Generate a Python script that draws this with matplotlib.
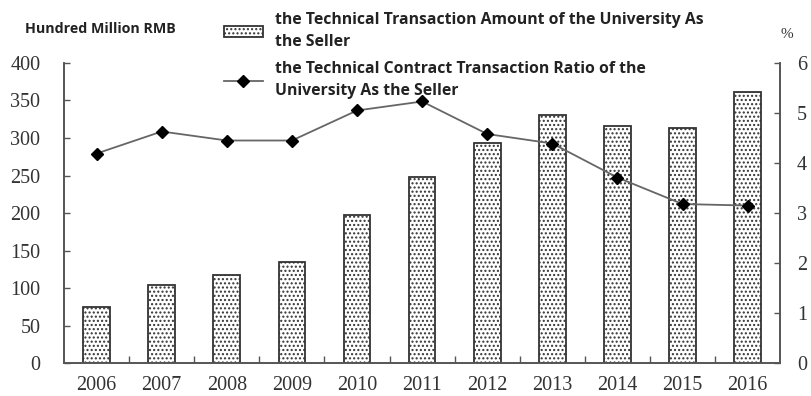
import numpy as np
import matplotlib
matplotlib.use("Agg")
import matplotlib.pyplot as plt

years = ["2006", "2007", "2008", "2009", "2010", "2011",
         "2012", "2013", "2014", "2015", "2016"]
amount = [75, 104, 117, 135, 197, 248, 293, 330, 316, 314, 361]
ratio = [4.19, 4.63, 4.45, 4.45, 5.05, 5.23, 4.58, 4.39, 3.71, 3.18, 3.15]

amount_label = "the Technical Transaction Amount of the University As\nthe Seller"
ratio_label = "the Technical Contract Transaction Ratio of the\nUniversity As the Seller"

plt.rcParams['hatch.color'] = '#444444'
plt.rcParams['hatch.linewidth'] = 1.0

fig = plt.figure(figsize=(8.11, 3.96), dpi=100)
ax = fig.add_axes([0.079, 0.083, 0.883, 0.758])
ax2 = ax.twinx()

x = np.arange(len(years))
bars = ax.bar(x, amount, width=0.41, facecolor='white', edgecolor='#333333',
              linewidth=1.3, hatch='....', label=amount_label, zorder=2)
line, = ax2.plot(x, ratio, color='#666666', linewidth=1.3, marker='D',
                 markersize=6, markerfacecolor='black', markeredgecolor='black',
                 label=ratio_label, zorder=3)

ax.set_xlim(-0.5, len(years) - 0.5)
ax.set_ylim(0, 400)
ax2.set_ylim(0, 6)
ax.set_yticks(range(0, 401, 50))
ax2.set_yticks(range(0, 7))
ax.set_xticks(x)
ax.set_xticklabels(years)
ax.set_xticks(x[:-1] + 0.5, minor=True)

for lab in ax.get_xticklabels() + ax.get_yticklabels() + ax2.get_yticklabels():
    lab.set_fontfamily('Liberation Serif')
    lab.set_fontsize(14.5)
    lab.set_color('#333333')

ax.tick_params(axis='x', which='major', length=0, pad=9.5)
ax.tick_params(axis='x', which='minor', direction='in', length=5, width=1, color='#555555')
ax.tick_params(axis='y', direction='in', length=4, width=1, color='#555555', pad=17)
ax2.tick_params(axis='y', direction='in', length=4, width=1, color='#555555', pad=12)

for a in (ax, ax2):
    a.spines['top'].set_visible(False)
    for s in ('left', 'right', 'bottom'):
        a.spines[s].set_color('#555555')
        a.spines[s].set_linewidth(1.2)

fig.text(0.031, 0.928, "Hundred Million RMB", family='Open Sans', weight='bold',
         fontsize=10.3, color='#222222', va='center')
fig.text(0.963, 0.912, "%", family='Liberation Serif', fontsize=11,
         color='#333333', va='center')

leg = ax.legend([bars, line], [amount_label, ratio_label], loc='upper left',
                bbox_to_anchor=(0.214, 1.19), frameon=False,
                prop=dict(family='Open Sans', weight='bold', size=11.3),
                handlelength=2.5, handleheight=0.7, handletextpad=0.8,
                labelspacing=0.7, borderaxespad=0)
for t in leg.get_texts():
    t.set_color('#222222')
    t.set_linespacing(1.5)

fig.savefig("out.png", dpi=100)
